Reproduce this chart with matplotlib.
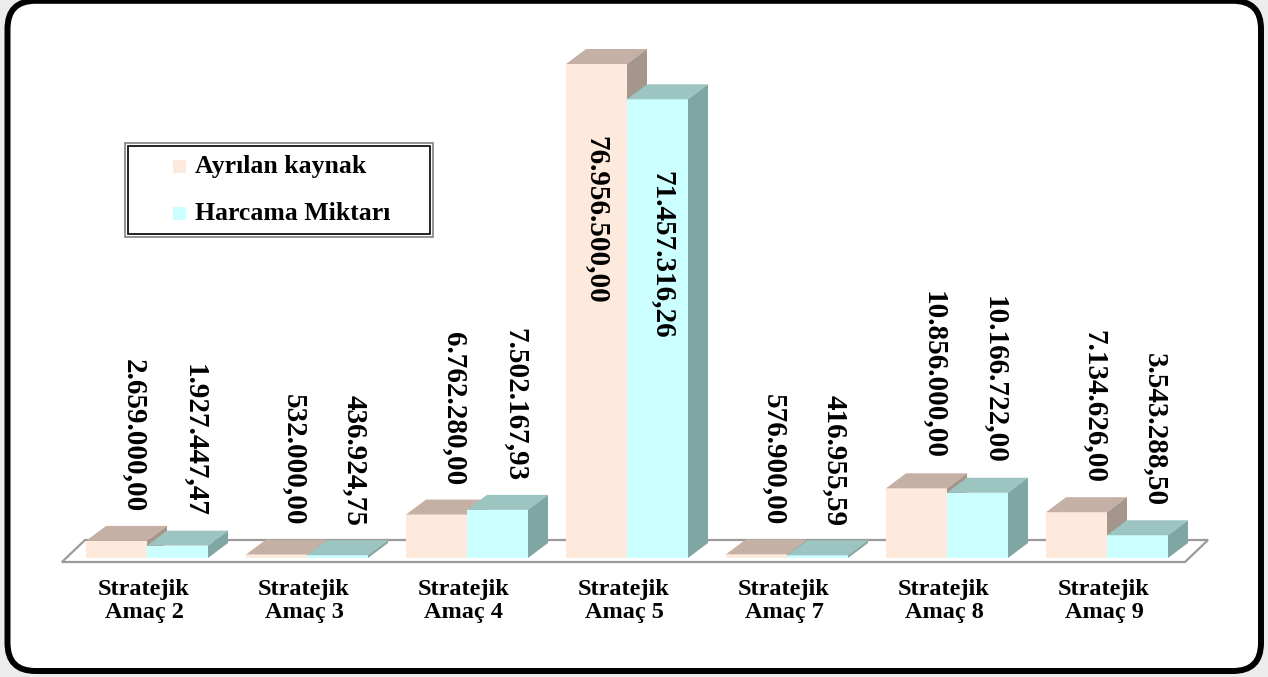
"""Ayrılan kaynak / Harcama miktarı by strategic goal, Excel-style 3D bars."""
import matplotlib
matplotlib.use("Agg")
import matplotlib.pyplot as plt
from matplotlib.patches import Polygon, Rectangle, FancyBboxPatch

CATEGORIES = [
    "Stratejik\nAmaç 2",
    "Stratejik\nAmaç 3",
    "Stratejik\nAmaç 4",
    "Stratejik\nAmaç 5",
    "Stratejik\nAmaç 7",
    "Stratejik\nAmaç 8",
    "Stratejik\nAmaç 9",
]
AYRILAN = [2659000.00, 532000.00, 6762280.00, 76956500.00, 576900.00, 10856000.00, 7134626.00]
HARCAMA = [1927447.47, 436924.75, 7502167.93, 71457316.26, 416955.59, 10166722.00, 3543288.50]
SERIES_NAMES = ["Ayrılan kaynak", "Harcama Miktarı"]

# front / top / side face colours per series
COLORS = [
    ("#fdeadd", "#c4b0a4", "#a5968c"),
    ("#ccffff", "#9cc4c0", "#80a6a4"),
]
SERIF = ["Liberation Serif", "DejaVu Serif"]

W_PX, H_PX = 1268, 677
X0_PX, STEP_PX = 147, 160        # first group centre, group spacing
BASE_PX, PX_PER_M = 558, 6.419   # zero line, pixels per million
BAR_W = 61 / STEP_PX
DX, DY = 20 / STEP_PX, 15 / PX_PER_M


def fmt_tr(v):
    s = f"{v:,.2f}"
    return s.replace(",", "#").replace(".", ",").replace("#", ".")


def inch(px, py):
    return px / 100, (H_PX - py) / 100


def bar3d(ax, x0, v, colors, z):
    front, top, side = colors
    ax.add_patch(Rectangle((x0, 0), BAR_W, v, facecolor=front, edgecolor="none", zorder=z))
    ax.add_patch(Polygon([(x0, v), (x0 + BAR_W, v), (x0 + BAR_W + DX, v + DY), (x0 + DX, v + DY)],
                         closed=True, facecolor=top, edgecolor="none", zorder=z))
    ax.add_patch(Polygon([(x0 + BAR_W, 0), (x0 + BAR_W + DX, DY), (x0 + BAR_W + DX, v + DY), (x0 + BAR_W, v)],
                         closed=True, facecolor=side, edgecolor="none", zorder=z))


def main():
    fig = plt.figure(figsize=(W_PX / 100, H_PX / 100), dpi=100, facecolor="#ececec")
    ax = fig.add_axes([0, 0, 1, 1])
    ax.set_axis_off()
    ax.set_xlim(-X0_PX / STEP_PX, (W_PX - X0_PX) / STEP_PX)
    ax.set_ylim((BASE_PX - H_PX) / PX_PER_M, BASE_PX / PX_PER_M)

    # rounded outer frame
    fx0, fy0 = inch(7.5, 671)
    fx1, fy1 = inch(1261, 0.8)
    frame = FancyBboxPatch((fx0, fy0), fx1 - fx0, fy1 - fy0,
                           boxstyle="round,pad=0,rounding_size=0.28",
                           transform=fig.dpi_scale_trans, facecolor="white",
                           edgecolor="black", linewidth=4.3, zorder=0, clip_on=False)
    ax.add_patch(frame)

    # floor
    n = len(CATEGORIES)
    fl_l, fl_r = (62 - X0_PX) / STEP_PX, (1185 - X0_PX) / STEP_PX
    fl_b = (BASE_PX - 562) / PX_PER_M
    fdx, fdy = 23 / STEP_PX, 22 / PX_PER_M
    ax.add_patch(Polygon([(fl_l, fl_b), (fl_r, fl_b), (fl_r + fdx, fl_b + fdy), (fl_l + fdx, fl_b + fdy)],
                         closed=True, facecolor="white", edgecolor="#9a9a9a", linewidth=1.6, zorder=1))

    vmax = max(AYRILAN + HARCAMA) / 1e6
    for i in range(n):
        for s, values in enumerate([AYRILAN, HARCAMA]):
            v = values[i] / 1e6
            x0 = i - BAR_W + s * BAR_W
            bar3d(ax, x0, v, COLORS[s], 2 + i * 2 + s)
            label = fmt_tr(values[i])
            if v > 0.5 * vmax:
                ax.text(x0 + BAR_W / 2 + s * 5 / STEP_PX, v - 72 / PX_PER_M, label,
                        rotation=270, ha="center", va="top", fontsize=21,
                        fontweight="bold", family=SERIF, zorder=40)
            else:
                ax.text(x0 + BAR_W / 2 + 18 / STEP_PX, v + DY + 14 / PX_PER_M, label,
                        rotation=270, ha="center", va="bottom", fontsize=21,
                        fontweight="bold", family=SERIF, zorder=40)
        ax.text(i - 3 / STEP_PX, (BASE_PX - 601) / PX_PER_M, CATEGORIES[i],
                ha="center", va="center", fontsize=17.5, fontweight="bold",
                family=SERIF, linespacing=1.12, zorder=40)

    # legend box (double border)
    lx0, ly0 = inch(125, 237)
    lx1, ly1 = inch(433, 143)
    ax.add_patch(Rectangle((lx0, ly0), lx1 - lx0, ly1 - ly0, transform=fig.dpi_scale_trans,
                           facecolor="white", edgecolor="#808080", linewidth=1.2, zorder=50, clip_on=False))
    ix0, iy0 = inch(128, 234)
    ix1, iy1 = inch(430, 146)
    ax.add_patch(Rectangle((ix0, iy0), ix1 - ix0, iy1 - iy0, transform=fig.dpi_scale_trans,
                           facecolor="white", edgecolor="black", linewidth=1.2, zorder=51, clip_on=False))
    for k, (name, ypx) in enumerate(zip(SERIES_NAMES, [166.5, 214])):
        sx, sy = inch(173, ypx + 6.5)
        ax.add_patch(Rectangle((sx, sy), 0.13, 0.13, transform=fig.dpi_scale_trans,
                               facecolor=COLORS[k][0], edgecolor="none", zorder=52, clip_on=False))
        tx, ty = inch(195, ypx)
        ax.text(tx, ty, name, transform=fig.dpi_scale_trans, ha="left", va="center",
                fontsize=18.5, fontweight="bold", family=SERIF, zorder=53)

    fig.savefig("out.png", dpi=100, facecolor=fig.get_facecolor())


if __name__ == "__main__":
    main()
